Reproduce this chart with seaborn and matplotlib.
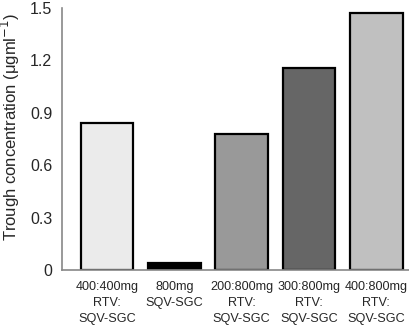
import matplotlib
matplotlib.use("Agg")
import matplotlib.pyplot as plt
import seaborn as sns
import pandas as pd

# data
groups = ["400:400mg\nRTV:\nSQV-SGC", "800mg\nSQV-SGC", "200:800mg\nRTV:\nSQV-SGC",
          "300:800mg\nRTV:\nSQV-SGC", "400:800mg\nRTV:\nSQV-SGC"]
trough = [0.84, 0.04, 0.78, 1.155, 1.47]
bar_colors = ["#ebebeb", "#000000", "#999999", "#666666", "#c0c0c0"]
yticks = [0, 0.3, 0.6, 0.9, 1.2, 1.5]
ytick_labels = ["0", "0.3", "0.6", "0.9", "1.2", "1.5"]

df = pd.DataFrame({"group": groups, "trough": trough})

sns.set_style("white")
plt.rcParams["font.family"] = ["Liberation Sans", "DejaVu Sans"]

fig = plt.figure(figsize=(4.1, 3.32), dpi=100)
ax = fig.add_axes([0.151, 0.187, 0.849, 0.789])

sns.barplot(data=df, x="group", y="trough", hue="group", palette=bar_colors,
            legend=False, width=0.78, edgecolor="black", linewidth=1.6,
            saturation=1, ax=ax)

ax.set_ylim(0, 1.5)
ax.set_xlim(-0.67, 4.5)
ax.set_yticks(yticks)
ax.set_yticklabels(ytick_labels, fontsize=11.5)
ax.set_xticks(range(len(groups)))
ax.set_xticklabels(groups, fontsize=9.1, linespacing=1.42)
ax.tick_params(axis="y", direction="in", length=4, width=1, color="#888888", pad=7)
ax.tick_params(axis="x", length=0, pad=8)

sns.despine(ax=ax)
for s in ["left", "bottom"]:
    ax.spines[s].set_color("#888888")
    ax.spines[s].set_linewidth(1.2)

ax.set_xlabel("")
ax.set_ylabel("Trough concentration (\u03bcgml$^{-1}$)", fontsize=12, labelpad=6)
ax.yaxis.label.set_y(0.546)

fig.savefig("out.png", dpi=100)
